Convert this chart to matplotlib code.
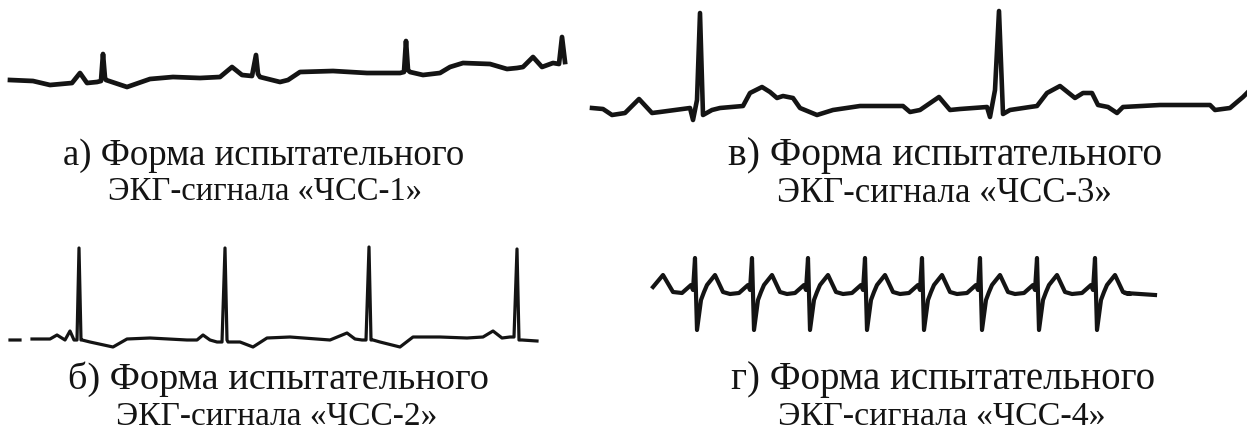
import numpy as np
import matplotlib
matplotlib.use('Agg')
import matplotlib.pyplot as plt

plt.rcParams['font.family'] = ['Liberation Serif', 'DejaVu Serif']

nan = np.nan

# а) ЧСС-1 : x (px along the strip), y (px, downwards)
ecg1_x = [10, 33, 50, 72, 80, 87, 97, 101, 103, 105, 106, 127, 150, 173, 200,
          220, 232, 242, 252, 256, 258, 260, 280, 288, 300, 333, 367, 400,
          404, 406, 408, 410, 423, 440, 450, 463, 490, 507, 517, 523, 533,
          542, 553, 559, 562, 565]
ecg1_y = [80, 81, 85, 83, 73, 83, 82, 81, 54, 78, 80, 87, 79, 77, 78,
          77, 67, 75, 76, 55, 74, 77, 82, 80, 72, 71, 73, 73,
          72, 41, 70, 72, 75, 73, 67, 63, 64, 69, 68, 67, 57,
          67, 63, 64, 37, 62]

# б) ЧСС-2 (starts with two dashes)
ecg2_x = [10, 20, nan, 32, 50, 57, 65, 70, 74, 77, 79, 81, 82, 90, 113, 127,
          150, 187, 197, 203, 210, 217, 222, 225, 227, 228, 240, 253, 267,
          290, 330, 347, 355, 362, 366, 369, 371, 373, 380, 400, 413, 440,
          467, 483, 493, 502, 510, 514, 517, 519, 522, 537]
ecg2_y = [340, 340, nan, 339, 339, 335, 340, 331, 340, 340, 248, 340, 340, 342,
          347, 339, 338, 340, 340, 335, 340, 342, 342, 248, 340, 342, 342,
          347, 338, 337, 340, 333, 339, 340, 340, 247, 340, 340, 342, 347,
          337, 337, 338, 337, 331, 338, 337, 337, 249, 340, 340, 341]

# в) ЧСС-3
ecg3_x = [592, 603, 612, 625, 639, 652, 660, 690, 693, 697, 700, 703, 712, 720,
          743, 750, 762, 770, 777, 783, 793, 800, 817, 833, 860, 903, 910,
          920, 939, 950, 960, 987, 990, 995, 999, 1003, 1010, 1030, 1037,
          1047, 1060, 1075, 1083, 1092, 1098, 1108, 1117, 1123, 1160, 1210,
          1215, 1230, 1243, 1247]
ecg3_y = [108, 109, 115, 113, 99, 113, 112, 108, 120, 100, 13, 115, 110, 108,
          106, 93, 87, 92, 98, 96, 98, 108, 115, 110, 106, 106, 112,
          110, 97, 110, 109, 107, 117, 90, 11, 114, 110, 107, 106,
          93, 86, 98, 93, 93, 105, 107, 113, 107, 105, 105,
          110, 108, 97, 93]

# г) ЧСС-4 : R-peak positions and one beat template
ecg4_r = [695, 752, 808, 865, 922, 980, 1037, 1095]
beat_dx = [-13, -4, -2, 0, 2, 6, 9, 12, 20, 28, 35]
beat_y = [293, 285, 290, 258, 330, 300, 292, 285, 275, 292, 294]
ecg4_head_x = [653, 663, 673]
ecg4_head_y = [287, 275, 292]
ecg4_tail_x = [1125, 1155]
ecg4_tail_y = [293, 295]

# caption lines: text, centre x, baseline y, size
captions = [
    ('а) Форма испытательного', 264, 165, 26.5),
    ('ЭКГ-сигнала «ЧСС-1»', 265, 200, 23.5),
    ('в) Форма испытательного', 945, 165, 28.5),
    ('ЭКГ-сигнала «ЧСС-3»', 944, 202, 25),
    ('б) Форма испытательного', 278, 389, 27.5),
    ('ЭКГ-сигнала «ЧСС-2»', 277, 425, 24),
    ('г) Форма испытательного', 943, 389, 28),
    ('ЭКГ-сигнала «ЧСС-4»', 942, 425, 24.5),
]

W, H = 1247, 432
fig = plt.figure(figsize=(W / 100, H / 100), dpi=100)
ax = fig.add_axes([0, 0, 1, 1])
ax.set_xlim(0, W)
ax.set_ylim(H, 0)
ax.axis('off')

ink = '#141414'
ax.plot(ecg1_x, ecg1_y, color=ink, lw=3.4, solid_joinstyle='round')
ax.plot(ecg2_x, ecg2_y, color=ink, lw=2.3, solid_joinstyle='round')
ax.plot(ecg3_x, ecg3_y, color=ink, lw=3.3, solid_joinstyle='round')

g_x = list(ecg4_head_x)
g_y = list(ecg4_head_y)
for r in ecg4_r:
    g_x += [r + d for d in beat_dx]
    g_y += beat_y
g_x += ecg4_tail_x
g_y += ecg4_tail_y
ax.plot(g_x, g_y, color=ink, lw=3.0, solid_joinstyle='round')

for txt, cx, y, size in captions:
    ax.text(cx, y, txt, ha='center', va='baseline', fontsize=size, color=ink)

fig.savefig('out.png', dpi=100, facecolor='white')
